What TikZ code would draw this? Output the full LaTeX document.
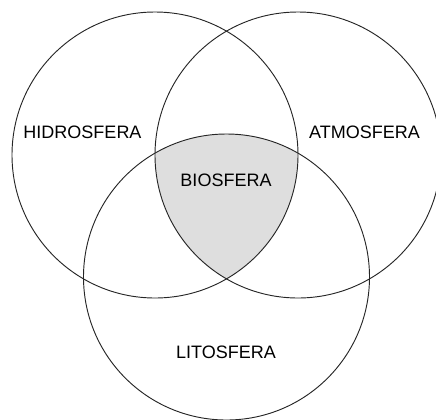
\documentclass[tikz,border=0pt]{standalone}
\usepackage{fontspec}
\setmainfont{Liberation Sans}
\begin{document}
\begin{tikzpicture}[x=0.75pt, y=-0.75pt, line width=0.7pt]
        \useasboundingbox (0,0) rectangle (436,419);
        \coordinate (hidro) at (155,155);
        \coordinate (atmo) at (298,155);
        \coordinate (lito) at (226.5,277);
        \begin{scope}
            \clip (hidro) circle (107.25pt);
            \clip (atmo) circle (107.25pt);
            \fill[black!13] (lito) circle (107.25pt);
        \end{scope}
        \draw[black!85] (hidro) circle (107.25pt);
        \draw[black!85] (atmo) circle (107.25pt);
        \draw[black!85] (lito) circle (107.25pt);
        \node[font=\fontsize{13.5}{16}\selectfont] (h) at (82.5,132) {HIDROSFERA};
        \node[font=\fontsize{13.5}{16}\selectfont] (a) at (364.5,132) {ATMOSFERA};
        \node[font=\fontsize{13.5}{16}\selectfont] (b) at (226,180) {BIOSFERA};
        \node[font=\fontsize{13.5}{16}\selectfont] (l) at (226,352) {LITOSFERA};
    \end{tikzpicture}
\end{document}
